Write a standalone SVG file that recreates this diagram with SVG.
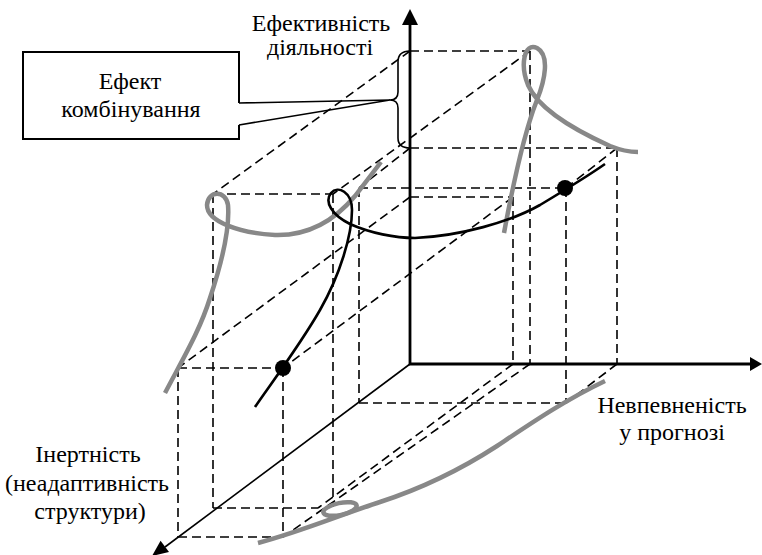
<svg xmlns="http://www.w3.org/2000/svg" width="762" height="555" viewBox="0 0 762 555">
<style>
.d{fill:none;stroke:#000;stroke-width:1.6;stroke-dasharray:9 5}
.ax{fill:none;stroke:#000;stroke-width:2.8}
.g{fill:none;stroke:#888;stroke-width:4.5}
.k{fill:none;stroke:#000;stroke-width:2.6}
</style>
<rect width="762" height="555" fill="#fff"/>
<g id="dashed-lines">
<line class="d" x1="410" y1="51" x2="530" y2="51"/>
<line class="d" x1="410" y1="51" x2="213" y2="194"/>
<line class="d" x1="530" y1="51" x2="333" y2="194"/>
<line class="d" x1="213" y1="194" x2="333" y2="194"/>
<line class="d" x1="213" y1="194" x2="213" y2="508"/>
<line class="d" x1="333" y1="194" x2="333" y2="507"/>
<line class="d" x1="530" y1="51" x2="530" y2="364"/>
<line class="d" x1="213" y1="508" x2="318" y2="508"/>
<line class="d" x1="513" y1="364" x2="318" y2="508"/>
<line class="d" x1="410" y1="148" x2="617" y2="148"/>
<line class="d" x1="617" y1="148" x2="617" y2="364"/>
<line class="d" x1="410" y1="148" x2="359" y2="188"/>
<line class="d" x1="617" y1="148" x2="566" y2="188"/>
<line class="d" x1="359" y1="188" x2="566" y2="188"/>
<line class="d" x1="359" y1="188" x2="359" y2="403"/>
<line class="d" x1="566" y1="188" x2="566" y2="403"/>
<line class="d" x1="359" y1="403" x2="566" y2="403"/>
<line class="d" x1="617" y1="364" x2="566" y2="403"/>
<line class="d" x1="410" y1="197" x2="513" y2="197"/>
<line class="d" x1="513" y1="197" x2="513" y2="364"/>
<line class="d" x1="513" y1="197" x2="283" y2="368"/>
<line class="d" x1="410" y1="197" x2="178" y2="368"/>
<line class="d" x1="178" y1="368" x2="283" y2="368"/>
<line class="d" x1="178" y1="368" x2="178" y2="537"/>
<line class="d" x1="283" y1="368" x2="283" y2="537"/>
<line class="d" x1="178" y1="537" x2="283" y2="537"/>
<line class="d" x1="530" y1="364" x2="283" y2="537"/>
</g>
<g id="gray-curves">
<path class="g" d="M165,393 C185,355 200,330 210,298 C222,262 230,230 228,205 C226,190 208,190 207,205 C207,222 240,233 275,235 C310,236 335,220 355,196 L381,162"/>
<path class="g" d="M504,233 C512,190 525,130 537,100 C545,80 550,55 537,48 C524,42 520,65 528,85 C538,108 570,128 610,146 C620,150 630,152 638,152"/>
<path class="g" d="M258,543 C300,532 340,515 380,502 C420,489 460,470 497,446 C530,424 565,400 605,381"/>
<ellipse class="g" cx="340" cy="509" rx="17" ry="6" transform="rotate(-12 340 509)"/>
</g>
<g id="black-curve">
<path class="k" d="M255,407 C270,385 300,345 320,310 C340,275 352,235 352,210 C352,192 338,185 331,193 C324,202 332,215 350,224 C370,233 395,238 415,238 C460,236 510,222 540,205 C560,193 585,178 605,164"/>
<circle cx="283" cy="368" r="8"/>
<circle cx="565" cy="188" r="8"/>
</g>
<g id="axes">
<line class="ax" x1="410" y1="365" x2="410" y2="22"/>
<polygon points="410,9 402,25 418,25"/>
<line class="ax" x1="409" y1="364" x2="752" y2="364"/>
<polygon points="762,364 750,357 750,371"/>
<line x1="410" y1="364" x2="165" y2="547" stroke="#000" stroke-width="1.6"/>
<polygon points="152,556 169,552 160.6,540.8"/>
</g>
<g id="brace">
<path d="M410,51 Q398,51 398,62 V92 Q398,100 390,100 Q398,100 398,108 V138 Q398,148 410,148" fill="none" stroke="#000" stroke-width="1.6"/>
</g>
<g id="callout" font-family="'Liberation Serif', 'DejaVu Serif', serif" font-size="24" text-anchor="middle" fill="#000">
<path d="M239,103 V52 H23 V139 H239 V125" fill="none" stroke="#000" stroke-width="2"/>
<path d="M239,103 L390,100 L239,125" fill="none" stroke="#000" stroke-width="1.6"/>
<text x="130" y="89">Ефект</text>
<text x="131" y="117">комбінування</text>
</g>
<g id="labels" font-family="'Liberation Serif', 'DejaVu Serif', serif" font-size="24" text-anchor="middle" fill="#000">
<text x="321" y="31">Ефективність</text>
<text x="320" y="55">діяльності</text>
<text x="672" y="413">Невпевненість</text>
<text x="672" y="440">у прогнозі</text>
<text x="88" y="462">Інертність</text>
<text x="87" y="491">(неадаптивність</text>
<text x="90" y="519">структури)</text>
</g>
</svg>
